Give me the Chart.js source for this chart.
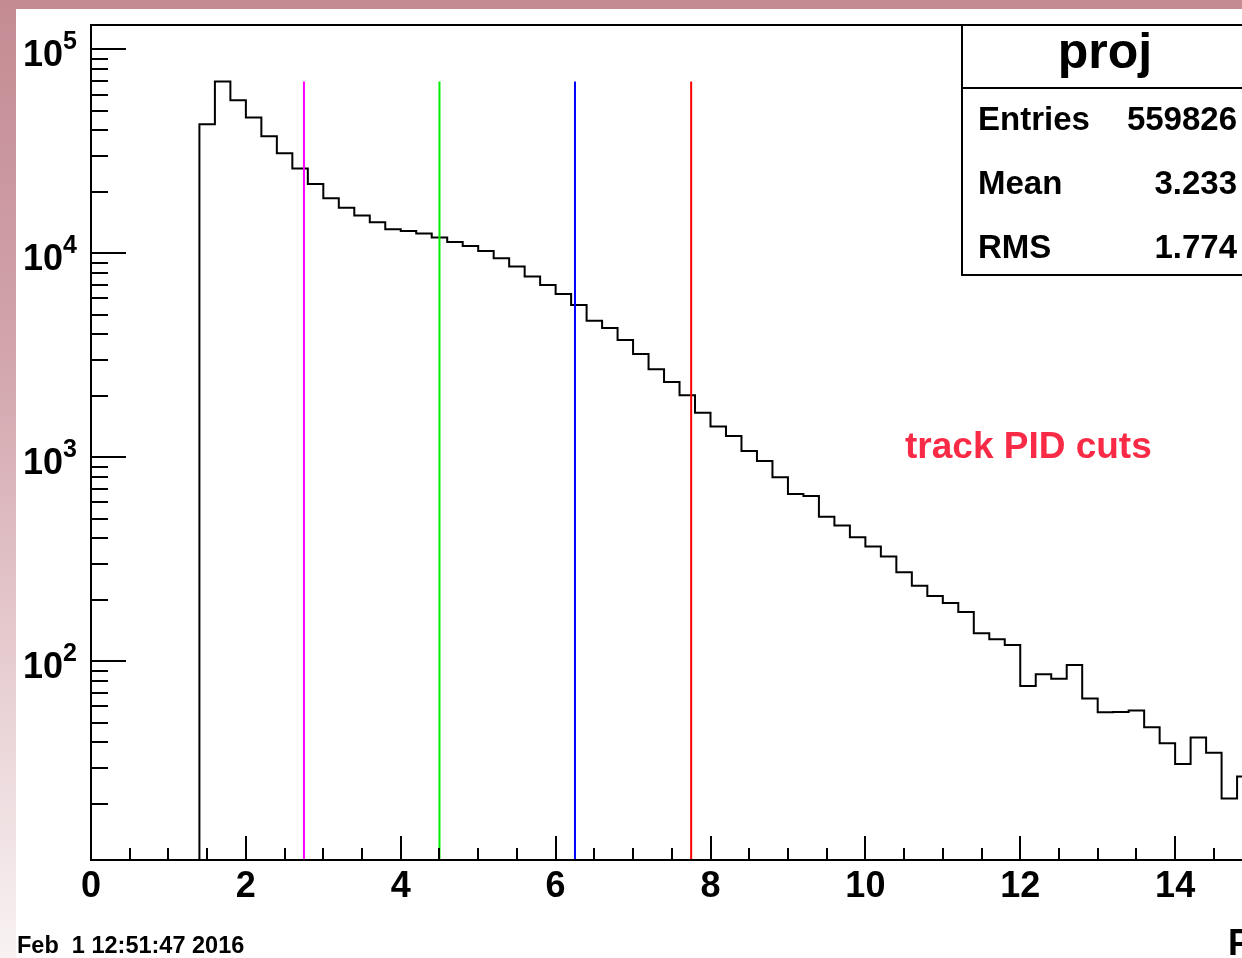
<!DOCTYPE html>
<html>
<head>
<meta charset="utf-8">
<script src="https://cdn.jsdelivr.net/npm/chart.js@4.4.1/dist/chart.umd.min.js"></script>
<style>
  html, body { margin: 0; padding: 0; width: 1242px; height: 958px; overflow: hidden; }
  body { position: relative; background: linear-gradient(to bottom, #c48b93 0%, #d1a3aa 35%, #e4c8cc 65%, #f8f2f3 100%); }
  #panel { position: absolute; left: 16px; top: 9px; width: 1340px; height: 949px; background: #fff; }
  canvas { display: block; }
</style>
</head>
<body>
<div id="panel"><canvas id="hist" width="1330" height="949"></canvas></div>
<script>
// histogram "proj" : low edge of each bin and its content
const binLow = [1.4, 1.6, 1.8, 2.0, 2.2, 2.4, 2.6, 2.8, 3.0, 3.2, 3.4, 3.6, 3.8, 4.0, 4.2, 4.4, 4.6, 4.8,
                5.0, 5.2, 5.4, 5.6, 5.8, 6.0, 6.2, 6.4, 6.6, 6.8, 7.0, 7.2, 7.4, 7.6, 7.8, 8.0, 8.2, 8.4, 8.6, 8.8,
                9.0, 9.2, 9.4, 9.6, 9.8, 10.0, 10.2, 10.4, 10.6, 10.8, 11.0, 11.2, 11.4, 11.6, 11.8,
                12.0, 12.2, 12.4, 12.6, 12.8, 13.0, 13.2, 13.4, 13.6, 13.8, 14.0, 14.2, 14.4, 14.6, 14.8];
const binHigh = 15.0;
const counts = [42900, 69550, 56300, 46300, 37500, 30950, 26040, 21860, 18600, 16730, 15290, 14190, 13110, 12860, 12480, 11950, 11360, 10860,
                10260, 9450, 8600, 7680, 6990, 6320, 5580, 4670, 4300, 3760, 3210, 2700, 2340, 2010, 1650, 1413, 1272, 1074, 959, 798,
                661, 646, 511, 462, 405, 365, 326, 273, 234, 209, 193, 174, 137, 128, 120,
                75.6, 86.4, 81.9, 95.9, 65.6, 56.2, 56.4, 57.3, 47.5, 39.6, 31.3, 42.2, 35.6, 21.2, 27.2];

// PID cut positions
const cutValues = [2.75, 4.5, 6.25, 7.75];
const cutColors = ['#ff00ff', '#00ee00', '#0000ff', '#ff0000'];

// axes
const xMin = 0, xMax = 16;
const yMin = 10.6, yMax = 131500;
const xTickLabels = [0, 2, 4, 6, 8, 10, 12, 14, 16];
const yTickDecades = [100, 1000, 10000, 100000];

// stats box
const statsTitle = 'proj';
const statsLabels = ['Entries', 'Mean', 'RMS'];
const statsValues = ['559826', '3.233', '1.774'];

const FONT = '"Liberation Sans", Arial, Helvetica, sans-serif';

const histPoints = [{ x: binLow[0], y: yMin }];
binLow.forEach((x, i) => histPoints.push({ x: x, y: counts[i] }));
histPoints.push({ x: binHigh, y: counts[counts.length - 1] });

const cutTop = Math.max(...counts);

const datasets = [{
  label: 'proj',
  data: histPoints,
  stepped: true,
  borderColor: '#000',
  borderWidth: 2,
  pointRadius: 0,
  fill: false,
  order: 2
}];
cutValues.forEach((c, i) => {
  datasets.push({
    label: 'cut' + i,
    data: [{ x: c, y: yMin }, { x: c, y: cutTop }],
    borderColor: cutColors[i],
    borderWidth: 2,
    pointRadius: 0,
    fill: false,
    order: 1
  });
});

// ROOT-like frame, inward ticks, labels, stats box
const rootFrame = {
  id: 'rootFrame',
  afterDraw(chart) {
    const ctx = chart.ctx;
    const a = chart.chartArea;
    const xs = chart.scales.x, ys = chart.scales.y;
    ctx.save();
    ctx.strokeStyle = '#000';
    ctx.fillStyle = '#000';
    ctx.lineWidth = 2;
    ctx.lineCap = 'butt';

    // frame
    ctx.beginPath();
    ctx.moveTo(a.right, a.top);
    ctx.lineTo(a.left, a.top);
    ctx.lineTo(a.left, a.bottom);
    ctx.lineTo(a.right, a.bottom);
    ctx.stroke();

    // x ticks
    ctx.beginPath();
    for (let v = xMin; v <= xMax + 1e-9; v += 0.5) {
      const px = Math.round(xs.getPixelForValue(v));
      const major = Math.abs(v / 2 - Math.round(v / 2)) < 1e-6;
      ctx.moveTo(px, a.bottom);
      ctx.lineTo(px, a.bottom - (major ? 24 : 12));
    }
    // y ticks
    [10, 100, 1000, 10000, 100000].forEach(d => {
      for (let m = 1; m <= 9; m++) {
        const v = m * d;
        if (v < yMin || v > yMax) continue;
        const py = Math.round(ys.getPixelForValue(v));
        ctx.moveTo(a.left, py);
        ctx.lineTo(a.left + (m === 1 ? 35 : 17), py);
      }
    });
    ctx.stroke();

    // x labels
    ctx.font = 'bold 36px ' + FONT;
    ctx.textAlign = 'center';
    ctx.textBaseline = 'alphabetic';
    xTickLabels.forEach(v => {
      ctx.fillText(String(v), xs.getPixelForValue(v), a.bottom + 37);
    });

    // y labels 10^n
    yTickDecades.forEach(v => {
      const py = ys.getPixelForValue(v);
      ctx.font = 'bold 36px ' + FONT;
      ctx.textAlign = 'right';
      ctx.fillText('10', a.left - 28, py + 17);
      ctx.font = 'bold 25px ' + FONT;
      ctx.textAlign = 'left';
      ctx.fillText(String(Math.round(Math.log10(v))), a.left - 28, py);
    });

    // stats box
    const bx = 946, by = a.top, bw = 300, bh = 250;
    ctx.fillStyle = '#fff';
    ctx.fillRect(bx, by, bw, bh);
    ctx.strokeRect(bx, by, bw, bh);
    ctx.beginPath();
    ctx.moveTo(bx, by + 63);
    ctx.lineTo(bx + bw, by + 63);
    ctx.stroke();
    ctx.fillStyle = '#000';
    ctx.font = 'bold 50px ' + FONT;
    ctx.textAlign = 'center';
    ctx.fillText(statsTitle, 1089, by + 43);
    ctx.font = 'bold 33px ' + FONT;
    statsLabels.forEach((lab, i) => {
      const base = by + 105 + i * 64;
      ctx.textAlign = 'left';
      ctx.fillText(lab, 962, base);
      ctx.textAlign = 'right';
      ctx.fillText(statsValues[i], 1221, base);
    });

    // annotation
    ctx.fillStyle = '#f92a45';
    ctx.font = 'bold 37px ' + FONT;
    ctx.textAlign = 'left';
    ctx.fillText('track PID cuts', 889, 449);

    // axis title and date
    ctx.fillStyle = '#000';
    ctx.font = 'bold 36px ' + FONT;
    ctx.fillText('P (GeV/c)', 1212, 946);
    ctx.font = 'bold 23.5px ' + FONT;
    ctx.fillText('Feb  1 12:51:47 2016', 1, 944);

    ctx.restore();
  }
};

new Chart(document.getElementById('hist'), {
  type: 'line',
  data: { datasets: datasets },
  options: {
    responsive: false,
    animation: false,
    devicePixelRatio: 1,
    layout: { padding: { left: 75, top: 16, right: 16, bottom: 98 } },
    plugins: { legend: { display: false }, tooltip: { enabled: false } },
    elements: { line: { tension: 0 } },
    scales: {
      x: { type: 'linear', min: xMin, max: xMax, display: false },
      y: { type: 'logarithmic', min: yMin, max: yMax, display: false }
    }
  },
  plugins: [rootFrame]
});
</script>
</body>
</html>
